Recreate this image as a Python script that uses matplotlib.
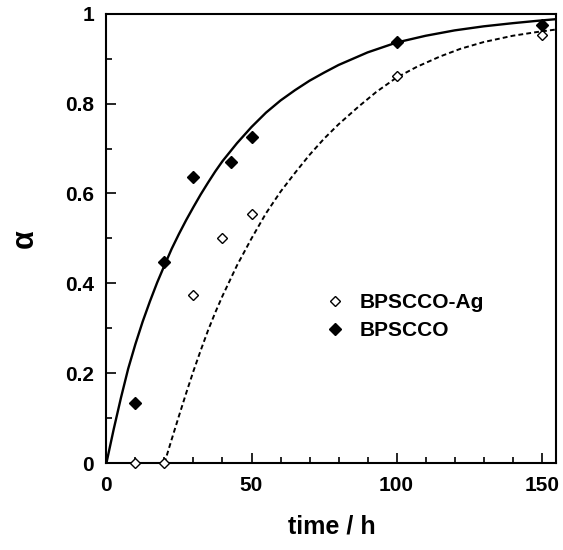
import numpy as np
import matplotlib.pyplot as plt
from matplotlib.ticker import MultipleLocator

plt.rcParams['font.family'] = ['Liberation Sans', 'DejaVu Sans']
plt.rcParams['font.weight'] = 'bold'
plt.rcParams['axes.labelweight'] = 'bold'

# measured points
t_ag = [10, 20, 30, 40, 50, 100, 150]
a_ag = [0.0, 0.0, 0.375, 0.50, 0.555, 0.862, 0.952]
t_pure = [10, 20, 30, 43, 50, 100, 150]
a_pure = [0.133, 0.447, 0.637, 0.670, 0.726, 0.938, 0.974]

# fitted curves
fit_pure_t = [0, 1, 2.5, 5, 7.5, 10, 12.5, 15, 17.5, 20, 22.5, 25, 27.5, 30, 32.5, 35, 37.5, 40, 45, 50,
              55, 60, 65, 70, 75, 80, 90, 100, 110, 120, 130, 140, 148, 155]
fit_pure_a = [0, 0.03, 0.075, 0.145, 0.21, 0.265, 0.315, 0.36, 0.402, 0.44, 0.477, 0.51, 0.541, 0.57, 0.598,
              0.624, 0.649, 0.672, 0.712, 0.748, 0.78, 0.807, 0.83, 0.851, 0.869, 0.886, 0.914, 0.936,
              0.951, 0.963, 0.972, 0.979, 0.984, 0.988]
fit_ag_t = [20, 22.5, 25, 27.5, 30, 32.5, 35, 37.5, 40, 45, 50, 55, 60, 65, 70, 75, 80, 87, 93, 100,
            107, 115, 122, 130, 140, 148, 155]
fit_ag_a = [0, 0.053, 0.105, 0.156, 0.205, 0.251, 0.295, 0.335, 0.372, 0.44, 0.50, 0.556, 0.604, 0.646,
            0.686, 0.722, 0.754, 0.794, 0.826, 0.858, 0.882, 0.905, 0.922, 0.937, 0.951, 0.959, 0.965]

fig = plt.figure(figsize=(5.63, 5.50), dpi=100)
ax = fig.add_axes([0.189, 0.158, 0.799, 0.817])

ax.plot(fit_pure_t, fit_pure_a, 'k-', lw=1.7)
ax.plot(fit_ag_t, fit_ag_a, 'k--', lw=1.4, dashes=(2.5, 1.6))
ax.plot(t_ag, a_ag, 'D', mfc='white', mec='k', mew=1.0, ms=5.5, ls='none', label='BPSCCO-Ag', clip_on=False, zorder=5)
ax.plot(t_pure, a_pure, 'D', color='k', ms=6, ls='none', label='BPSCCO', clip_on=False, zorder=5)

ax.set_xlim(0, 155)
ax.set_ylim(0, 1)
ax.xaxis.set_major_locator(MultipleLocator(50))
ax.xaxis.set_minor_locator(MultipleLocator(10))
ax.yaxis.set_major_locator(MultipleLocator(0.2))
ax.yaxis.set_minor_locator(MultipleLocator(0.1))
ax.set_yticks([0, 0.2, 0.4, 0.6, 0.8, 1.0])
ax.set_yticklabels(['0', '0.2', '0.4', '0.6', '0.8', '1'])
ax.tick_params(which='both', direction='in', top=False, right=False, labelsize=15, width=1.2)
ax.tick_params(which='major', length=7, pad=9)
ax.tick_params(which='minor', length=4)
for s in ax.spines.values():
    s.set_linewidth(1.5)

ax.set_xlabel('time / h', fontsize=18, labelpad=14)
ax.set_ylabel('α', fontsize=22, labelpad=18, rotation=90)

ax.legend(loc='upper left', bbox_to_anchor=(0.443, 0.42), frameon=False, fontsize=15,
          handletextpad=0.7, labelspacing=0.45, handlelength=1.0)

plt.savefig('out.png', dpi=100)
